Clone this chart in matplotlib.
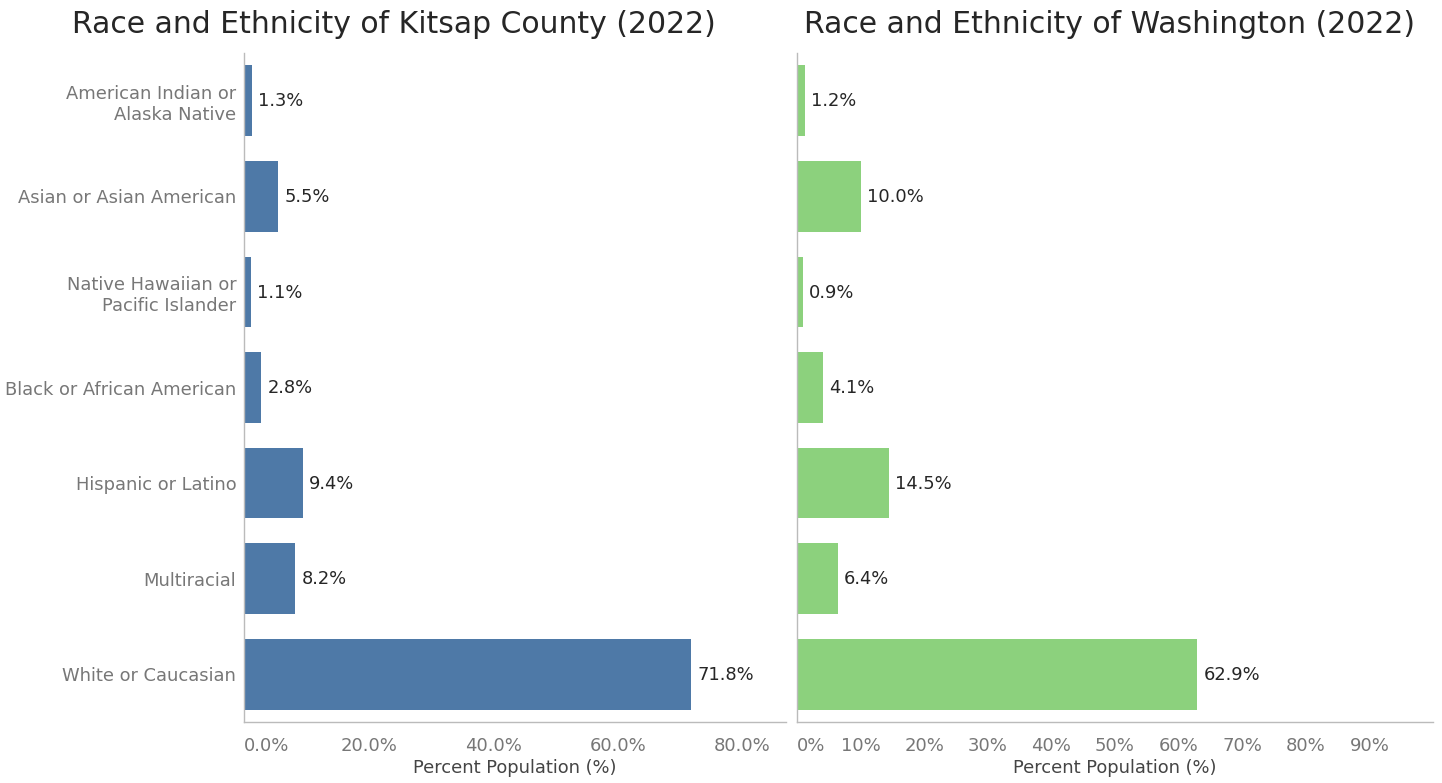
import matplotlib
matplotlib.use("Agg")
import matplotlib.pyplot as plt

categories = [
    "American Indian or\nAlaska Native",
    "Asian or Asian American",
    "Native Hawaiian or\nPacific Islander",
    "Black or African American",
    "Hispanic or Latino",
    "Multiracial",
    "White or Caucasian",
]
kitsap_pct = [1.3, 5.5, 1.1, 2.8, 9.4, 8.2, 71.8]
washington_pct = [1.2, 10.0, 0.9, 4.1, 14.5, 6.4, 62.9]

kitsap_ticks = [0, 20, 40, 60, 80]
kitsap_tick_labels = ["0.0%", "20.0%", "40.0%", "60.0%", "80.0%"]
wa_ticks = [0, 10, 20, 30, 40, 50, 60, 70, 80, 90]
wa_tick_labels = ["0%", "10%", "20%", "30%", "40%", "50%", "60%", "70%", "80%", "90%"]

BLUE = "#4E79A7"
GREEN = "#8CD17D"
SPINE = "#BBBBBB"
TICK_GREY = "#777777"
TEXT_DARK = "#262626"

plt.rcParams["font.family"] = ["DejaVu Sans"]

W, H = 1442, 783
fig = plt.figure(figsize=(W / 100, H / 100), dpi=100)

ax_l = fig.add_axes([244 / W, 61 / H, 542 / W, 669 / H])
ax_r = fig.add_axes([797 / W, 61 / H, 636 / W, 669 / H])


def draw_panel(ax, values, color, xmax, ticks, tick_labels, show_y):
    y = list(range(len(categories)))
    bars = ax.barh(y, values, height=0.74, color=color)
    ax.set_ylim(len(categories) - 0.5, -0.5)
    ax.set_xlim(0, xmax)
    ax.set_yticks(y)
    if show_y:
        ax.set_yticklabels(categories, fontsize=12.9, color=TICK_GREY)
    else:
        ax.set_yticklabels([])
    ax.set_xticks(ticks)
    ax.set_xticklabels(tick_labels, fontsize=13, color=TICK_GREY)
    ax.get_xticklabels()[0].set_horizontalalignment("left")
    ax.tick_params(axis="both", length=0)
    ax.tick_params(axis="y", pad=5.5)
    ax.tick_params(axis="x", pad=10.5)
    for side in ("top", "right"):
        ax.spines[side].set_visible(False)
    for side in ("left", "bottom"):
        ax.spines[side].set_color(SPINE)
        ax.spines[side].set_linewidth(1.0)
    ax.set_xlabel("Percent Population (%)", fontsize=12.9, color="#444444", labelpad=3.5)
    for bar, v in zip(bars, values):
        ax.annotate(f"{v:.1f}%", (bar.get_width(), bar.get_y() + bar.get_height() / 2),
                    xytext=(4.5, -0.5), textcoords="offset points",
                    ha="left", va="center", fontsize=12.9, color=TEXT_DARK)


draw_panel(ax_l, kitsap_pct, BLUE, 87, kitsap_ticks, kitsap_tick_labels, True)
draw_panel(ax_r, washington_pct, GREEN, 100, wa_ticks, wa_tick_labels, False)

fig.text(394 / W, 1 - 33 / H, "Race and Ethnicity of Kitsap County (2022)",
         ha="center", va="baseline", fontsize=21.5, color=TEXT_DARK)
fig.text(1110 / W, 1 - 33 / H, "Race and Ethnicity of Washington (2022)",
         ha="center", va="baseline", fontsize=21.5, color=TEXT_DARK)

fig.savefig("out.png", dpi=100, facecolor="white")
